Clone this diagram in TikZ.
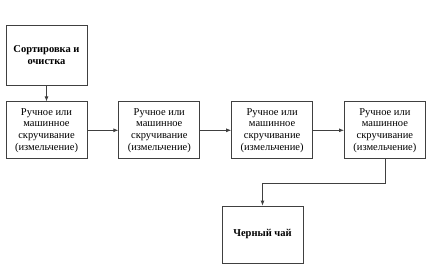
\documentclass[tikz,border=0pt]{standalone}
\usepackage{fontspec}
\setmainfont{Liberation Serif}
\usepackage{tikz}
\usetikzlibrary{arrows.meta,positioning}

\begin{document}
\begin{tikzpicture}[
    x=1pt, y=1pt,
    node distance=16pt and 31pt,
    box/.style={rectangle, draw=black!75, line width=0.8pt, minimum width=81pt, minimum height=57pt, align=center, inner sep=0pt, font=\fontsize{10.5}{11.7}\selectfont},
    boldbox/.style={box, minimum height=60pt, font=\bfseries\fontsize{10.5}{11.7}\selectfont},
    line/.style={draw=black!75, line width=0.8pt, -{Latex[length=5pt,width=4pt]}}
]
    \useasboundingbox (0,0) rectangle (429,279);

    % Sorting
    \node[boldbox] (sort) at (46.5,224) {Сортировка и\\очистка};

    % Rolling row
    \node[box, below=of sort] (roll1) {Ручное или\\машинное\\скручивание\\(измельчение)};
    \node[box, right=of roll1] (roll2) {Ручное или\\машинное\\скручивание\\(измельчение)};
    \node[box, right=of roll2] (roll3) {Ручное или\\машинное\\скручивание\\(измельчение)};
    \node[box, right=of roll3] (roll4) {Ручное или\\машинное\\скручивание\\(измельчение)};

    % Result
    \node[boldbox, minimum height=57pt] (tea) at (262.5,44.5) {Черный чай};

    % Connecting lines
    \path[line] (sort) -- (roll1);
    \path[line] (roll1) -- (roll2);
    \path[line] (roll2) -- (roll3);
    \path[line] (roll3) -- (roll4);
    \path[line] (roll4.south) -- ++(0,-24) -| (tea.north);
\end{tikzpicture}
\end{document}
